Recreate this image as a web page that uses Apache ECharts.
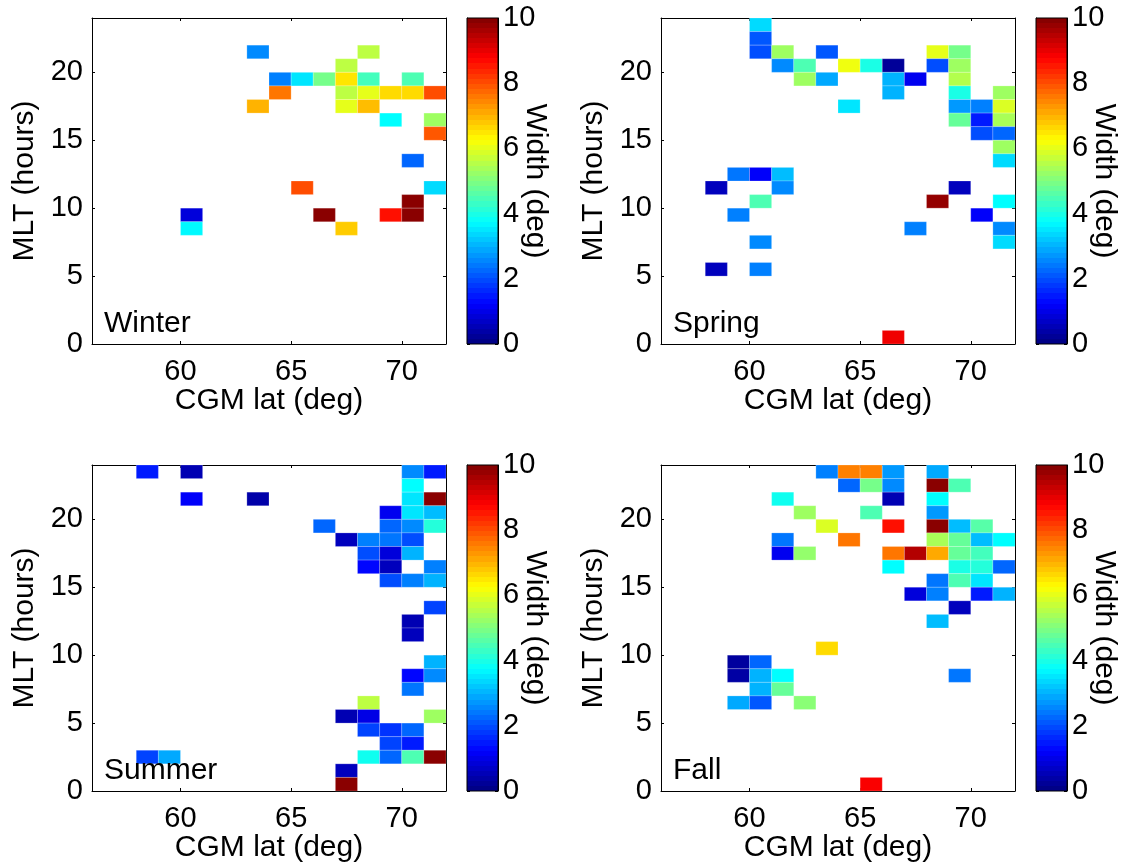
<!DOCTYPE html>
<html>
<head>
<meta charset="utf-8">
<script src="https://cdn.jsdelivr.net/npm/echarts@6/dist/echarts.min.js"></script>
<style>html,body{margin:0;padding:0;background:#fff}#c{width:1124px;height:866px}</style>
</head>
<body>
<div id="c"></div>
<script>
// ---- data ----
const seasons = ['Winter', 'Spring', 'Summer', 'Fall'];
const latRange = [56, 72];
const mltRange = [0, 24];
const widthRange = [0, 10];
const latTicks = [60, 65, 70];
const mltTicks = [0, 5, 10, 15, 20];
const widthTicks = [0, 2, 4, 6, 8, 10];
const xLabel = 'CGM lat (deg)';
const yLabel = 'MLT (hours)';
const cLabel = 'Width (deg)';

// [CGM lat bin centre, MLT bin centre, width (deg)]
const winter = [
  [63.5,21.5,2.6],[68.5,21.5,5.6],
  [67.5,20.5,5.6],
  [64.5,19.5,2.5],[65.5,19.5,3.5],[66.5,19.5,4.9],[67.5,19.5,6.5],[68.5,19.5,4.4],[70.5,19.5,4.5],
  [64.5,18.5,7.6],[67.5,18.5,5.6],[68.5,18.5,6.0],[69.5,18.5,6.6],[70.5,18.5,6.6],[71.5,18.5,8.0],
  [63.5,17.5,7.0],[67.5,17.5,6.0],[68.5,17.5,6.9],
  [69.5,16.5,3.75],[71.5,16.5,5.3],
  [71.5,15.5,7.9],
  [70.5,13.5,2.25],
  [65.5,11.5,8.0],[71.5,11.5,3.4],
  [70.5,10.5,9.9],
  [60.5,9.5,0.9],[66.5,9.5,9.9],[69.5,9.5,8.6],[70.5,9.5,9.9],
  [60.5,8.5,3.7],[67.5,8.5,6.75]
];
const spring = [
  [60.5,23.5,3.4],
  [60.5,22.5,2.1],
  [60.5,21.5,2.0],[61.5,21.5,5.3],[63.5,21.5,2.1],[68.5,21.5,6.0],[69.5,21.5,4.9],
  [61.5,20.5,2.6],[62.5,20.5,4.5],[64.5,20.5,6.1],[65.5,20.5,4.0],[66.5,20.5,0.25],[68.5,20.5,2.0],[69.5,20.5,5.3],
  [62.5,19.5,5.3],[63.5,19.5,2.9],[66.5,19.5,3.0],[67.5,19.5,1.1],[69.5,19.5,5.5],
  [66.5,18.5,3.0],[69.5,18.5,4.0],[71.5,18.5,5.3],
  [64.5,17.5,3.5],[69.5,17.5,2.75],[70.5,17.5,2.5],[71.5,17.5,5.9],
  [69.5,16.5,4.75],[70.5,16.5,1.5],[71.5,16.5,5.4],
  [70.5,15.5,2.0],[71.5,15.5,2.25],
  [71.5,14.5,5.3],
  [71.5,13.5,3.4],
  [59.5,12.5,2.4],[60.5,12.5,1.2],[61.5,12.5,3.1],
  [58.5,11.5,0.6],[61.5,11.5,2.6],[69.5,11.5,0.6],
  [60.5,10.5,4.5],[68.5,10.5,9.8],[71.5,10.5,3.75],
  [59.5,9.5,2.5],[70.5,9.5,1.2],
  [67.5,8.5,2.5],[71.5,8.5,2.6],
  [60.5,7.5,2.6],[71.5,7.5,3.4],
  [58.5,5.5,0.6],[60.5,5.5,2.5],
  [66.5,0.5,8.9]
];
const summer = [
  [58.5,23.5,1.5],[60.5,23.5,0.5],[70.5,23.5,2.6],[71.5,23.5,1.5],
  [70.5,22.5,3.75],
  [60.5,21.5,1.2],[63.5,21.5,0.4],[70.5,21.5,3.5],[71.5,21.5,9.9],
  [69.5,20.5,1.1],[70.5,20.5,3.5],[71.5,20.5,3.1],
  [66.5,19.5,2.25],[69.5,19.5,2.25],[70.5,19.5,2.6],[71.5,19.5,4.1],
  [67.5,18.5,0.6],[68.5,18.5,2.5],[69.5,18.5,2.4],[70.5,18.5,2.0],
  [68.5,17.5,2.0],[69.5,17.5,0.9],[70.5,17.5,3.0],
  [68.5,16.5,1.3],[69.5,16.5,0.6],[71.5,16.5,2.5],
  [69.5,15.5,2.0],[70.5,15.5,2.5],[71.5,15.5,3.0],
  [71.5,13.5,1.9],
  [70.5,12.5,0.5],
  [70.5,11.5,0.6],
  [71.5,9.5,3.0],
  [70.5,8.5,1.3],[71.5,8.5,2.6],
  [70.5,7.5,2.4],
  [68.5,6.5,5.6],
  [67.5,5.5,0.5],[68.5,5.5,1.0],[71.5,5.5,5.3],
  [68.5,4.5,1.9],[69.5,4.5,1.75],[70.5,4.5,2.25],
  [69.5,3.5,1.9],[70.5,3.5,1.5],
  [58.5,2.5,1.9],[59.5,2.5,2.9],[68.5,2.5,3.9],[69.5,2.5,2.25],[70.5,2.5,4.5],[71.5,2.5,9.9],
  [67.5,1.5,0.6],
  [67.5,0.5,9.9]
];
const fall = [
  [63.5,23.5,2.5],[64.5,23.5,7.5],[65.5,23.5,7.5],[66.5,23.5,2.75],[68.5,23.5,2.9],
  [64.5,22.5,2.25],[65.5,22.5,4.9],[66.5,22.5,2.6],[68.5,22.5,9.9],[69.5,22.5,4.5],
  [61.5,21.5,3.9],[66.5,21.5,0.5],[68.5,21.5,3.75],
  [62.5,20.5,5.3],[65.5,20.5,4.5],[68.5,20.5,2.75],
  [63.5,19.5,5.9],[66.5,19.5,8.6],[68.5,19.5,9.9],[69.5,19.5,3.1],[70.5,19.5,4.6],
  [61.5,18.5,2.4],[64.5,18.5,7.6],[68.5,18.5,5.4],[69.5,18.5,4.75],[70.5,18.5,3.1],[71.5,18.5,3.75],
  [61.5,17.5,1.1],[62.5,17.5,5.2],[66.5,17.5,7.6],[67.5,17.5,9.5],[68.5,17.5,7.1],[69.5,17.5,4.75],[70.5,17.5,4.4],
  [66.5,16.5,3.75],[69.5,16.5,4.0],[70.5,16.5,4.1],[71.5,16.5,2.25],
  [68.5,15.5,2.4],[69.5,15.5,4.5],[70.5,15.5,3.5],
  [67.5,14.5,0.9],[68.5,14.5,2.5],[70.5,14.5,1.5],[71.5,14.5,3.0],
  [69.5,13.5,0.6],
  [68.5,12.5,3.1],
  [63.5,10.5,6.6],
  [59.5,9.5,0.3],[60.5,9.5,2.25],
  [59.5,8.5,0.35],[60.5,8.5,3.0],[61.5,8.5,3.75],[69.5,8.5,2.4],
  [60.5,7.5,3.0],[61.5,7.5,4.75],
  [59.5,6.5,2.9],[60.5,6.5,2.1],[62.5,6.5,5.1],
  [65.5,0.5,8.8]
];
const seasonData = [winter, spring, summer, fall];

// ---- styling / layout ----
const FONT = '"Liberation Sans", Arial, Helvetica, sans-serif';
const TICK_FS = 29, LABEL_FS = 30;
const jet = ['#000080','#0000ff','#0080ff','#00ffff','#80ff80','#ffff00','#ff8000','#ff0000','#800000'];
const panelPos = [[92,18],[661,18],[92,465],[661,465]];
const PW = 354, PH = 326, CB_DX = 375, CB_W = 31, TL = 3;

// banded (64-level) jet gradient for the colour bar, top = high
function jetRGB(t){
  const c = v => Math.max(0, Math.min(1, v));
  return [c(1.5 - Math.abs(4*t - 3)), c(1.5 - Math.abs(4*t - 2)), c(1.5 - Math.abs(4*t - 1))];
}
const NB = 64, cbStops = [];
for (let k = 0; k < NB; k++){
  const t = 1 - (k + 0.5) / NB;
  const rgb = jetRGB(t).map(v => Math.round(v*255));
  const col = 'rgb(' + rgb.join(',') + ')';
  cbStops.push({offset:k/NB, color:col});
  cbStops.push({offset:(k+1)/NB, color:col});
}

const grid = [], xAxis = [], yAxis = [], series = [], graphic = [];
const axisLineStyle = {show:true, onZero:false, lineStyle:{color:'#000', width:1}};
const tickStyle = vals => ({show:true, inside:true, length:TL, customValues:vals, lineStyle:{color:'#000'}});

panelPos.forEach(([l, t], i) => {
  grid.push({left:l, top:t, width:PW, height:PH, containLabel:false});
  const gi = grid.length - 1;
  grid.push({left:l + CB_DX, top:t, width:CB_W, height:PH, containLabel:false});
  const ci = grid.length - 1;

  const xb = xAxis.length;
  xAxis.push({
    gridIndex:gi, type:'value', position:'bottom', min:latRange[0], max:latRange[1],
    axisLine:axisLineStyle, axisTick:tickStyle(latTicks),
    axisLabel:{show:true, customValues:latTicks, color:'#000', fontSize:TICK_FS, fontFamily:FONT, margin:13},
    splitLine:{show:false},
    name:xLabel, nameLocation:'middle', nameGap:42, nameMoveOverlap:false,
    nameTextStyle:{color:'#000', fontSize:LABEL_FS, fontFamily:FONT}
  });
  xAxis.push({
    gridIndex:gi, type:'value', position:'top', min:latRange[0], max:latRange[1],
    axisLine:axisLineStyle, axisTick:tickStyle(latTicks),
    axisLabel:{show:false}, splitLine:{show:false}
  });
  const xc = xAxis.length;
  xAxis.push({gridIndex:ci, type:'value', min:0, max:1, show:false});

  const yb = yAxis.length;
  yAxis.push({
    gridIndex:gi, type:'value', position:'left', min:mltRange[0], max:mltRange[1],
    axisLine:axisLineStyle, axisTick:tickStyle(mltTicks),
    axisLabel:{show:true, customValues:mltTicks, color:'#000', fontSize:TICK_FS, fontFamily:FONT, margin:9},
    splitLine:{show:false},
    name:yLabel, nameLocation:'middle', nameGap:52, nameRotate:90, nameMoveOverlap:false,
    nameTextStyle:{color:'#000', fontSize:LABEL_FS, fontFamily:FONT}
  });
  yAxis.push({
    gridIndex:gi, type:'value', position:'right', min:mltRange[0], max:mltRange[1],
    axisLine:axisLineStyle, axisTick:tickStyle(mltTicks),
    axisLabel:{show:false}, splitLine:{show:false}
  });
  const yc = yAxis.length;
  yAxis.push({
    gridIndex:ci, type:'value', position:'right', min:widthRange[0], max:widthRange[1], interval:2,
    axisLine:axisLineStyle, axisTick:tickStyle(widthTicks),
    axisLabel:{show:true, customValues:widthTicks, color:'#000', fontSize:TICK_FS, fontFamily:FONT, margin:5},
    splitLine:{show:false},
    name:cLabel, nameLocation:'middle', nameGap:22, nameRotate:-90, nameMoveOverlap:false,
    nameTextStyle:{color:'#000', fontSize:LABEL_FS, fontFamily:FONT}
  });
  yAxis.push({
    gridIndex:ci, type:'value', position:'left', min:widthRange[0], max:widthRange[1], interval:2,
    axisLine:axisLineStyle, axisTick:tickStyle(widthTicks),
    axisLabel:{show:false}, splitLine:{show:false}
  });

  series.push({
    type:'custom', name:seasons[i], coordinateSystem:'cartesian2d',
    xAxisIndex:xb, yAxisIndex:yb, data:seasonData[i], encode:{x:0, y:1},
    renderItem:function(params, api){
      const x = api.value(0), y = api.value(1);
      const p0 = api.coord([x - 0.5, y + 0.5]);
      const p1 = api.coord([x + 0.5, y - 0.5]);
      const c = api.visual('color');
      return {type:'rect', shape:{x:p0[0], y:p0[1], width:p1[0]-p0[0], height:p1[1]-p0[1]},
              style:{fill:c, stroke:'rgba(255,255,255,0.35)', lineWidth:0.6}};
    },
    z:2
  });
  series.push({
    type:'custom', coordinateSystem:'cartesian2d', xAxisIndex:xc, yAxisIndex:yc,
    data:[[0, widthRange[0], widthRange[1]]], silent:true,
    renderItem:function(params, api){
      const p0 = api.coord([0, api.value(2)]);
      const p1 = api.coord([1, api.value(1)]);
      return {type:'rect', shape:{x:p0[0], y:p0[1], width:p1[0]-p0[0], height:p1[1]-p0[1]},
              style:{fill:new echarts.graphic.LinearGradient(0,0,0,1,cbStops), stroke:'#000', lineWidth:1}};
    },
    z:1
  });

  graphic.push({type:'text', x:l + 12, y:t + 306,
    style:{text:seasons[i], fill:'#000', font:LABEL_FS + 'px ' + FONT, verticalAlign:'middle', align:'left'}, z:10});
});

const chart = echarts.init(document.getElementById('c'), null, {renderer:'canvas'});
chart.setOption({
  backgroundColor:'#ffffff',
  animation:false,
  grid, xAxis, yAxis, series, graphic,
  visualMap:{type:'continuous', show:false, min:widthRange[0], max:widthRange[1], dimension:2,
    seriesIndex:[0,2,4,6], inRange:{color:jet}}
});
</script>
</body>
</html>
